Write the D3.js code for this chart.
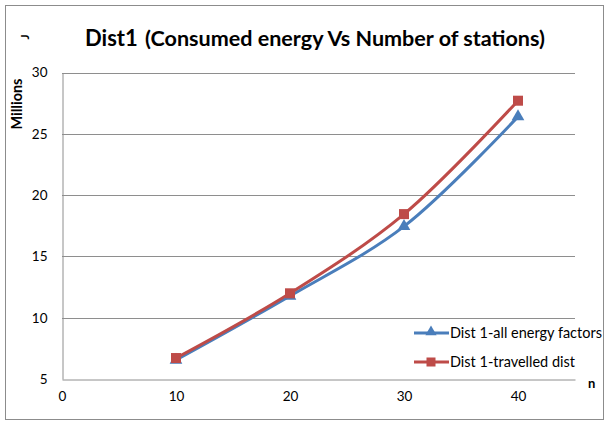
<!DOCTYPE html>
<html><head><meta charset="utf-8">
<script src="https://cdn.jsdelivr.net/npm/d3@7"></script>
<style>body{margin:0;background:#fff}svg{display:block}</style>
</head><body>
<script>
const xValues = [10, 20, 30, 40];
const allEnergy = [6.55, 11.77, 17.45, 26.4];
const travelledDist = [6.71, 11.99, 18.45, 27.7];
const seriesNames = ["Dist 1-all energy factors", "Dist 1-travelled dist"];
const xTicks = [0, 10, 20, 30, 40];
const yTicks = [5, 10, 15, 20, 25, 30];

const W = 608, H = 426;
const font = "Lato, 'Open Sans', sans-serif";
const svg = d3.select("body").append("svg").attr("width", W).attr("height", H);

function fitWidth(sel, target) {
  const fs = +sel.attr("font-size");
  const w = sel.node().getComputedTextLength();
  if (w > 0) sel.attr("font-size", (fs * target / w).toFixed(2));
}

svg.append("rect").attr("x", 5.5).attr("y", 5.5).attr("width", 598).attr("height", 414)
  .attr("fill", "#fff").attr("stroke", "#8c8c8c");

const x = d3.scaleLinear().domain([0, 45]).range([62, 575]);
const y = d3.scaleLinear().domain([5, 30]).range([379, 72.5]);

// gridlines
svg.append("g").selectAll("line").data(yTicks.filter(d => d > 5)).join("line")
  .attr("x1", x(0)).attr("x2", x(45))
  .attr("y1", d => Math.round(y(d)) + 0.5).attr("y2", d => Math.round(y(d)) + 0.5)
  .attr("stroke", "#8e8e8e").attr("stroke-width", 1);

// axes
const yAxis = d3.axisLeft(y).tickValues(yTicks).tickSize(0).tickPadding(0);
const gy = svg.append("g").attr("transform", `translate(${x(0) + 0.5},0)`).call(yAxis);
gy.select(".domain").attr("stroke", "#8e8e8e");
gy.selectAll("text").attr("x", -15).attr("font-family", font).attr("font-size", 13.5).attr("fill", "#000");

const xAxis = d3.axisBottom(x).tickValues(xTicks).tickSize(0).tickPadding(0);
const gx = svg.append("g").attr("transform", `translate(0,${Math.round(y(5)) + 0.5})`).call(xAxis);
gx.select(".domain").attr("stroke", "#8e8e8e");
gx.selectAll("text").attr("y", 12).attr("font-family", font).attr("font-size", 13.5).attr("fill", "#000");

// title
svg.append("text").attr("x", 85).attr("y", 46).attr("font-family", font)
  .attr("font-weight", "bold").attr("fill", "#000").attr("font-size", 22).text("Dist1");
const sub = svg.append("text").attr("x", 145).attr("y", 46).attr("font-family", font)
  .attr("font-weight", "bold").attr("fill", "#000").attr("font-size", 17)
  .text("(Consumed energy Vs Number of stations)");
fitWidth(sub, 400);

// axis titles
svg.append("text").attr("transform", "translate(29,37) rotate(-90)")
  .attr("font-family", font).attr("font-weight", "bold").attr("font-size", 12).attr("text-anchor", "middle").text("J");
const mil = svg.append("text").attr("transform", "translate(22,104) rotate(-90)")
  .attr("font-family", font).attr("font-weight", "bold").attr("font-size", 12).attr("text-anchor", "middle").text("Millions");
fitWidth(mil, 51);
svg.append("text").attr("x", 588).attr("y", 388)
  .attr("font-family", font).attr("font-weight", "bold").attr("font-size", 13).text("n");

const colors = ["#4a7ebb", "#be4b48"];
const line = d3.line().curve(d3.curveCatmullRom.alpha(0.5)).x(d => x(d[0])).y(d => y(d[1]));
const data = [allEnergy, travelledDist].map(v => xValues.map((xv, i) => [xv, v[i]]));

data.forEach((pts, si) => {
  svg.append("path").datum(pts).attr("d", line).attr("fill", "none")
    .attr("stroke", colors[si]).attr("stroke-width", 3).attr("stroke-linejoin", "round");
});
// markers
const tri = d3.symbol().type(d3.symbolTriangle).size(70);
svg.append("g").selectAll("path").data(data[0]).join("path")
  .attr("d", tri).attr("transform", d => `translate(${x(d[0])},${y(d[1])})`).attr("fill", colors[0]);
svg.append("g").selectAll("rect").data(data[1]).join("rect")
  .attr("x", d => x(d[0]) - 5).attr("y", d => y(d[1]) - 5).attr("width", 10).attr("height", 10)
  .attr("fill", colors[1]);

// legend
const legY = [333, 362];
let legFont = null;
seriesNames.forEach((name, i) => {
  const g = svg.append("g");
  g.append("line").attr("x1", 414).attr("x2", 449).attr("y1", legY[i]).attr("y2", legY[i])
    .attr("stroke", colors[i]).attr("stroke-width", 3);
  if (i === 0) {
    g.append("path").attr("d", d3.symbol().type(d3.symbolTriangle).size(55))
      .attr("transform", `translate(431,${legY[i] - 1})`).attr("fill", colors[i]);
  } else {
    g.append("rect").attr("x", 426.5).attr("y", legY[i] - 4.5).attr("width", 9).attr("height", 9).attr("fill", colors[i]);
  }
  const t = g.append("text").attr("x", 450).attr("y", legY[i] + 5).attr("font-family", font)
    .attr("font-size", 13).attr("fill", "#000").text(name);
  if (i === 0) { fitWidth(t, 152); legFont = t.attr("font-size"); }
  else t.attr("font-size", legFont);
});
</script>
</body></html>
